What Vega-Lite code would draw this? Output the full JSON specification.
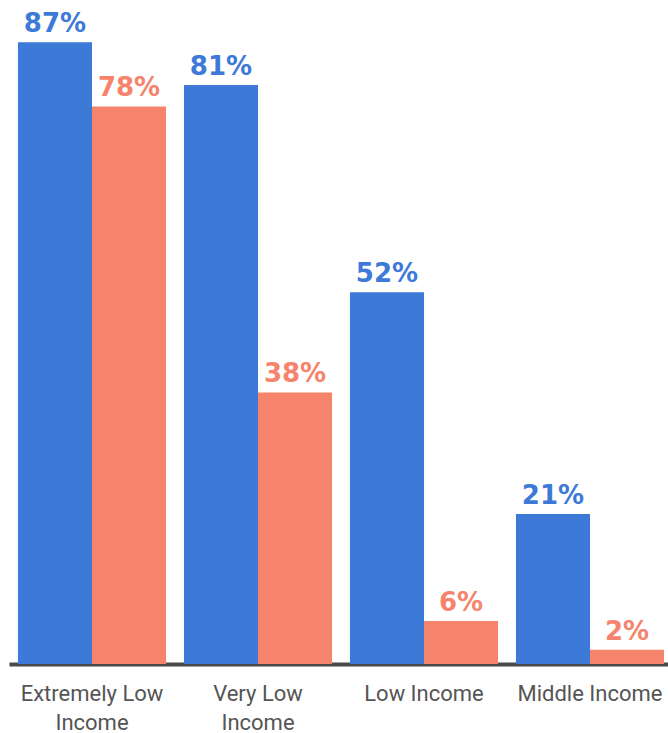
{
  "$schema": "https://vega.github.io/schema/vega-lite/v6.json",
  "autosize": "none",
  "width": 664,
  "height": 664,
  "padding": {"left": 9, "top": 0, "right": 0, "bottom": 69},
  "background": "white",
  "config": {"view": {"stroke": null}},
  "data": {
    "values": [
      {"group": "Extremely Low|Income", "series": "A", "value": 87},
      {"group": "Extremely Low|Income", "series": "B", "value": 78},
      {"group": "Very Low|Income", "series": "A", "value": 81},
      {"group": "Very Low|Income", "series": "B", "value": 38},
      {"group": "Low Income", "series": "A", "value": 52},
      {"group": "Low Income", "series": "B", "value": 6},
      {"group": "Middle Income", "series": "A", "value": 21},
      {"group": "Middle Income", "series": "B", "value": 2}
    ]
  },
  "transform": [{"calculate": "datum.value + '%'", "as": "label"}],
  "encoding": {
    "x": {
      "field": "group",
      "type": "nominal",
      "sort": null,
      "scale": {"paddingInner": 0.108, "paddingOuter": 0.054},
      "axis": {
        "title": null,
        "labelAngle": 0,
        "ticks": false,
        "domain": true,
        "domainColor": "#4a4a4a",
        "domainWidth": 4,
        "labelFont": "Roboto",
        "labelFontSize": 22,
        "labelColor": "#555555",
        "labelPadding": 19,
        "labelLineHeight": 29,
        "labelLimit": 300,
        "labelExpr": "split(datum.label, '|')"
      }
    },
    "xOffset": {"field": "series", "type": "nominal", "sort": null},
    "y": {
      "field": "value",
      "type": "quantitative",
      "scale": {"domain": [0, 92.9], "nice": false},
      "axis": null
    },
    "color": {
      "field": "series",
      "type": "nominal",
      "scale": {"domain": ["A", "B"], "range": ["#3d7ad8", "#f6836c"]},
      "legend": null
    }
  },
  "layer": [
    {"mark": {"type": "bar"}},
    {
      "mark": {"type": "text", "baseline": "alphabetic", "dy": -10, "fontSize": 26, "fontWeight": "bold", "font": "DejaVu Sans"},
      "encoding": {"text": {"field": "label"}}
    }
  ]
}
